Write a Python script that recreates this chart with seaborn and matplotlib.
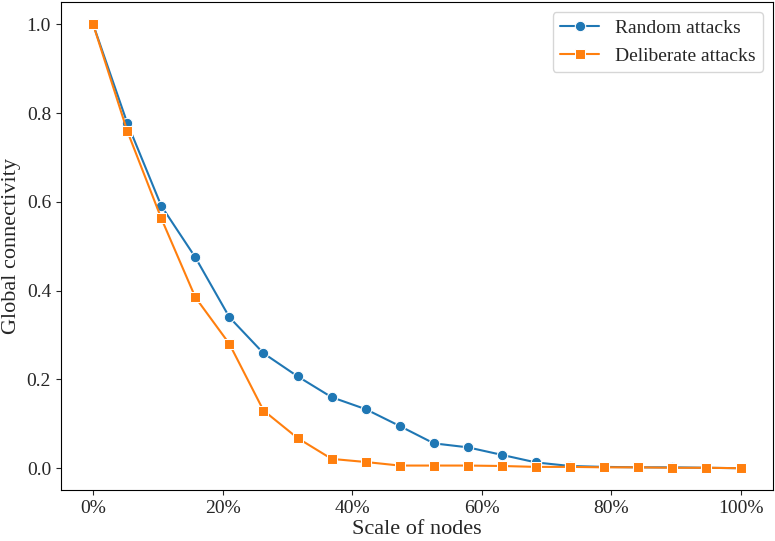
import numpy as np
import pandas as pd
import matplotlib
matplotlib.use("Agg")
import matplotlib.pyplot as plt
import seaborn as sns
from matplotlib.ticker import PercentFormatter

# --------------------------
# DATA
# --------------------------
scale = np.linspace(0, 1, 20)
random_attacks = [1.0, 0.778, 0.591, 0.475, 0.340, 0.259, 0.207, 0.160, 0.133, 0.095,
                  0.056, 0.047, 0.030, 0.013, 0.005, 0.003, 0.002, 0.002, 0.001, 0.000]
deliberate_attacks = [1.0, 0.760, 0.563, 0.385, 0.280, 0.130, 0.068, 0.021, 0.014, 0.006,
                      0.006, 0.006, 0.005, 0.003, 0.003, 0.002, 0.002, 0.001, 0.001, 0.000]

df = pd.DataFrame({
    "scale": np.concatenate([scale, scale]),
    "conn": random_attacks + deliberate_attacks,
    "type": ["Random attacks"] * 20 + ["Deliberate attacks"] * 20,
})

# --------------------------
# PLOT
# --------------------------
sns.set_style("ticks")
plt.rcParams["font.family"] = ["Liberation Serif", "DejaVu Serif"]

fig, ax = plt.subplots(figsize=(7.75, 5.41), dpi=100)

sns.lineplot(data=df, x="scale", y="conn", hue="type", style="type",
             markers={"Random attacks": "o", "Deliberate attacks": "s"},
             dashes=False, palette=["#1f77b4", "#ff7f0e"], markersize=7.5,
             linewidth=1.5, ax=ax)

ax.xaxis.set_major_formatter(PercentFormatter(1.0, decimals=0))
ax.set_xticks([0, 0.2, 0.4, 0.6, 0.8, 1.0])
ax.set_yticks([0.0, 0.2, 0.4, 0.6, 0.8, 1.0])
ax.set_xlabel("Scale of nodes", fontsize=16, labelpad=2)
ax.set_ylabel("Global connectivity", fontsize=16)
ax.tick_params(labelsize=14)
for s in ax.spines.values():
    s.set_visible(True)
    s.set_color("black")

ax.legend(title=None, fontsize=14, loc="upper right")

plt.tight_layout(pad=0.15)
plt.savefig("out.png", dpi=100)
